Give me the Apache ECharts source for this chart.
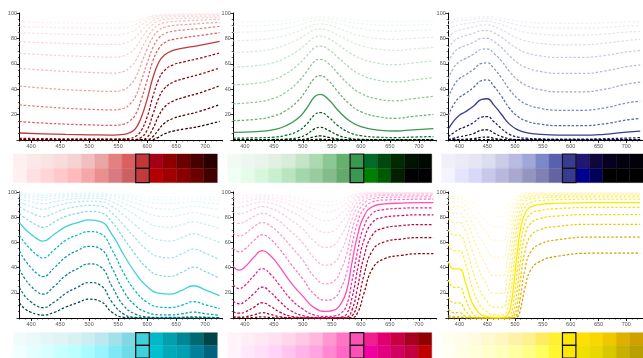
<!DOCTYPE html>
<html><head><meta charset="utf-8">
<script src="https://cdn.jsdelivr.net/npm/echarts@6/dist/echarts.min.js"></script>
<style>html,body{margin:0;padding:0;background:#fff}#c{width:643px;height:358px}</style>
</head><body><div id="c"></div>
<script>
// ---- tick labels ----
const xTickLabels = [400, 450, 500, 550, 600, 650, 700];
const xMinorTicks = [380,390,400,410,420,430,440,450,460,470,480,490,500,510,520,530,540,550,560,570,580,590,600,610,620,630,640,650,660,670,680,690,700,710,720,730];
const yTickLabels = [20, 40, 60, 80, 100];
const baseIndex = 9; // curves ordered lightest tint -> base -> darkest shade

// ---- RED ----
const redWl = [380, 420, 460, 500, 540, 560, 570, 580, 590, 600, 610, 620, 630, 645, 665, 690, 725];
const redCurves = [
  [92.7, 92.5, 92.2, 92.0, 91.9, 92.2, 92.9, 93.9, 95.6, 97.1, 98.2, 98.7, 99.0, 99.1, 99.2, 99.2, 99.3],
  [89.3, 88.9, 88.5, 88.3, 88.1, 88.5, 89.5, 91.0, 93.5, 95.7, 97.3, 98.1, 98.5, 98.6, 98.8, 98.9, 99.0],
  [84.4, 83.8, 83.3, 83.0, 82.7, 83.3, 84.7, 86.9, 90.5, 93.6, 95.9, 97.1, 97.7, 98.0, 98.1, 98.3, 98.5],
  [77.5, 76.7, 76.0, 75.6, 75.2, 76.0, 77.9, 80.9, 86.0, 90.5, 93.9, 95.8, 96.5, 97.0, 97.2, 97.4, 97.8],
  [68.3, 67.2, 66.3, 65.7, 65.2, 66.3, 68.7, 72.8, 79.8, 86.1, 91.0, 93.7, 94.9, 95.5, 95.9, 96.2, 96.7],
  [56.4, 55.1, 54.0, 53.2, 52.7, 54.0, 57.0, 62.2, 71.3, 79.9, 86.9, 90.7, 92.4, 93.3, 93.8, 94.4, 95.1],
  [42.4, 40.9, 39.6, 38.8, 38.2, 39.6, 43.0, 49.0, 60.2, 71.4, 80.9, 86.4, 88.8, 90.2, 90.9, 91.6, 92.8],
  [27.6, 26.2, 25.0, 24.2, 23.7, 25.0, 28.2, 34.3, 46.7, 60.3, 72.8, 80.3, 83.7, 85.6, 86.7, 87.7, 89.4],
  [14.5, 13.4, 12.5, 11.9, 11.5, 12.5, 15.0, 20.1, 31.9, 46.8, 62.2, 71.9, 76.6, 79.2, 80.7, 82.2, 84.5],
  [5.5, 4.9, 4.4, 4.1, 3.9, 4.4, 5.8, 9, 18, 32, 49, 61, 67, 70.5, 72.5, 74.5, 77.7],
  [1.3, 1.1, 0.9, 0.8, 0.8, 0.9, 1.4, 2.7, 7.6, 18.1, 34.3, 47.6, 54.8, 59.2, 61.7, 64.3, 68.5],
  [0.2, 0.1, 0.1, 0.1, 0.1, 0.1, 0.2, 0.4, 2.1, 7.7, 20.1, 32.9, 40.6, 45.5, 48.5, 51.6, 56.7],
  [0, 0, 0, 0, 0, 0, 0, 0, 0.3, 2.1, 9.0, 18.9, 25.9, 30.7, 33.8, 37.0, 42.7],
  [0, 0, 0, 0, 0, 0, 0, 0, 0, 0.3, 2.7, 8.2, 13.2, 17.0, 19.6, 22.5, 27.9],
  [0, 0, 0, 0, 0, 0, 0, 0, 0, 0, 0.4, 2.3, 4.8, 7.0, 8.7, 10.7, 14.7]
];
const redTop = ['#fff0f0','#fbe8e8','#fae3e3','#f8dcdc','#f5d3d3','#f0c0c0','#eaa5a5','#e38080','#d96060','#c23838','#a30018','#8c0000','#6b0000','#480000','#2a0000'];
const redBottom = ['#fff0f2','#ffe0e2','#ffd5d8','#ffc8cb','#ffbbbb','#f6a8a8','#e89090','#da7a80','#cc6060','#c23a3c','#b30000','#a00000','#880000','#6a0000','#400000'];

// ---- GREEN ----
const greenWl = [380, 420, 450, 470, 490, 505, 520, 530, 545, 560, 580, 600, 630, 660, 690, 725];
const greenCurves = [
  [93.0, 93.2, 93.7, 94.4, 95.4, 96.4, 97.2, 97.4, 97.0, 96.3, 95.2, 94.3, 93.6, 93.4, 93.6, 93.9],
  [89.6, 89.9, 90.7, 91.7, 93.2, 94.6, 95.9, 96.1, 95.6, 94.5, 92.9, 91.6, 90.5, 90.2, 90.6, 91.0],
  [84.8, 85.3, 86.4, 87.9, 90.0, 92.0, 93.9, 94.2, 93.5, 91.9, 89.6, 87.7, 86.1, 85.7, 86.3, 86.9],
  [78.1, 78.8, 80.3, 82.4, 85.4, 88.2, 91.0, 91.4, 90.4, 88.1, 84.8, 82.0, 79.9, 79.3, 80.1, 80.9],
  [69.0, 69.9, 71.9, 74.8, 78.9, 82.9, 86.8, 87.4, 85.9, 82.7, 78.0, 74.3, 71.5, 70.6, 71.7, 72.8],
  [57.4, 58.5, 61.0, 64.7, 70.0, 75.4, 80.8, 81.7, 79.6, 75.2, 68.9, 64.1, 60.4, 59.3, 60.7, 62.2],
  [43.5, 44.7, 47.7, 52.0, 58.6, 65.5, 72.6, 73.9, 71.0, 65.2, 57.2, 51.3, 47.0, 45.7, 47.3, 49.0],
  [28.6, 29.9, 32.9, 37.5, 44.9, 53.0, 61.9, 63.5, 59.8, 52.6, 43.3, 36.7, 32.2, 30.9, 32.6, 34.3],
  [15.3, 16.3, 18.9, 23.0, 30.1, 38.6, 48.7, 50.6, 46.3, 38.2, 28.5, 22.3, 18.3, 17.1, 18.6, 20.1],
  [6, 6.6, 8.2, 11, 16.5, 24, 34, 36, 31.5, 23.6, 15.2, 10.5, 7.8, 7.1, 8, 9],
  [1.5, 1.7, 2.3, 3.6, 6.7, 11.8, 19.8, 21.6, 17.7, 11.5, 5.9, 3.4, 2.2, 1.9, 2.3, 2.7],
  [0.2, 0.2, 0.4, 0.7, 1.7, 4.0, 8.8, 10.0, 7.4, 3.9, 1.4, 0.6, 0.3, 0.3, 0.3, 0.4],
  [0, 0, 0, 0.1, 0.2, 0.8, 2.6, 3.2, 2.0, 0.8, 0.2, 0, 0, 0, 0, 0],
  [0, 0, 0, 0, 0, 0.1, 0.4, 0.6, 0.3, 0.1, 0, 0, 0, 0, 0, 0],
  [0, 0, 0, 0, 0, 0, 0, 0, 0, 0, 0, 0, 0, 0, 0, 0]
];
const greenTop = ['#f2faf4','#eef7ef','#e9f4ea','#e1f0e3','#d7ecd9','#c6e5c8','#acd9af','#8cc893','#66b06e','#3a9950','#006b2a','#004810','#002a00','#001400','#000800'];
const greenBottom = ['#f0fff6','#e4fde9','#d8f8de','#c8f0cf','#b8e4c0','#a4d6ad','#98cc9e','#84bb8a','#64a86c','#3a9950','#008000','#005a00','#002000','#000000','#000000'];

// ---- BLUE ----
const blueWl = [380, 390, 400, 410, 425, 440, 450, 462, 475, 490, 505, 520, 545, 580, 620, 660, 700, 725];
const blueCurves = [
  [93.8, 95.2, 95.8, 96.1, 96.6, 97.1, 97.1, 96.7, 96.0, 94.7, 93.6, 92.9, 92.2, 91.9, 91.9, 92.3, 93.0, 93.3],
  [90.8, 92.9, 93.8, 94.3, 95.0, 95.7, 95.7, 95.1, 94.0, 92.2, 90.6, 89.5, 88.5, 88.0, 88.0, 88.6, 89.7, 90.2],
  [86.6, 89.5, 90.9, 91.5, 92.5, 93.6, 93.6, 92.7, 91.1, 88.6, 86.3, 84.7, 83.3, 82.6, 82.6, 83.4, 85.0, 85.6],
  [80.5, 84.7, 86.6, 87.6, 89.0, 90.5, 90.6, 89.3, 87.0, 83.3, 80.1, 77.9, 76.0, 75.0, 75.0, 76.2, 78.3, 79.2],
  [72.3, 77.9, 80.6, 81.9, 84.0, 86.1, 86.2, 84.4, 81.2, 76.0, 71.7, 68.7, 66.3, 65.0, 65.0, 66.5, 69.3, 70.5],
  [61.5, 68.8, 72.4, 74.2, 76.9, 79.9, 80.1, 77.5, 73.1, 66.3, 60.7, 57.0, 54.0, 52.4, 52.4, 54.2, 57.7, 59.1],
  [48.2, 57.0, 61.6, 63.9, 67.5, 71.4, 71.7, 68.2, 62.5, 54.0, 47.3, 43.0, 39.6, 37.9, 37.9, 39.9, 43.9, 45.5],
  [33.4, 43.0, 48.4, 51.0, 55.4, 60.3, 60.7, 56.3, 49.4, 39.7, 32.6, 28.2, 25.0, 23.4, 23.4, 25.2, 29.1, 30.7],
  [19.3, 28.2, 33.6, 36.4, 41.3, 46.8, 47.3, 42.3, 34.8, 25.0, 18.6, 15.0, 12.5, 11.3, 11.3, 12.7, 15.7, 17.0],
  [8.5, 15, 19.5, 22, 26.5, 32, 32.5, 27.5, 20.5, 12.5, 8, 5.8, 4.4, 3.8, 3.8, 4.5, 6.2, 7],
  [2.5, 5.8, 8.6, 10.3, 13.6, 18.1, 18.5, 14.4, 9.3, 4.4, 2.3, 1.4, 0.9, 0.7, 0.7, 1.0, 1.5, 1.9],
  [0.4, 1.4, 2.5, 3.3, 5.0, 7.7, 8.0, 5.5, 2.8, 0.9, 0.3, 0.2, 0.1, 0.1, 0.1, 0.1, 0.2, 0.3],
  [0, 0.2, 0.4, 0.6, 1.1, 2.1, 2.3, 1.3, 0.5, 0.1, 0, 0, 0, 0, 0, 0, 0, 0],
  [0, 0, 0, 0, 0.1, 0.3, 0.3, 0.1, 0, 0, 0, 0, 0, 0, 0, 0, 0, 0],
  [0, 0, 0, 0, 0, 0, 0, 0, 0, 0, 0, 0, 0, 0, 0, 0, 0, 0]
];
const blueTop = ['#f0f0f8','#ebebf6','#e6e6f3','#dcdef0','#cacce8','#b8bce2','#a0a8d8','#7c88c8','#5860b0','#383c90','#201870','#10083c','#080020','#040010','#020008'];
const blueBottom = ['#f4f4ff','#e4e4ff','#d8d8f8','#c8c8ec','#b8b8dc','#a8a8d0','#9494c0','#8080b4','#6464a0','#383c90','#000090','#00005a','#000000','#000000','#000000'];

// ---- CYAN ----
const cyanWl = [380, 390, 400, 410, 420, 440, 460, 480, 500, 520, 540, 560, 580, 600, 620, 640, 660, 680, 700, 725];
const cyanCurves = [
  [99.3, 99.1, 98.9, 98.8, 98.7, 98.9, 99.2, 99.3, 99.3, 99.3, 98.9, 98.2, 97.4, 96.5, 95.9, 95.8, 96.1, 96.5, 96.2, 95.6],
  [98.9, 98.6, 98.4, 98.2, 98.1, 98.4, 98.8, 98.9, 99.0, 99.0, 98.4, 97.3, 96.1, 94.7, 93.9, 93.7, 94.3, 94.8, 94.3, 93.5],
  [98.4, 98.0, 97.6, 97.3, 97.1, 97.6, 98.1, 98.4, 98.5, 98.4, 97.6, 96.0, 94.1, 92.2, 91.0, 90.7, 91.5, 92.3, 91.6, 90.4],
  [97.6, 97.0, 96.5, 96.0, 95.8, 96.5, 97.2, 97.6, 97.8, 97.7, 96.4, 94.1, 91.3, 88.5, 86.7, 86.4, 87.5, 88.7, 87.7, 85.9],
  [96.4, 95.5, 94.8, 94.1, 93.7, 94.8, 95.9, 96.4, 96.7, 96.5, 94.7, 91.3, 87.3, 83.3, 80.8, 80.4, 81.9, 83.6, 82.1, 79.6],
  [94.6, 93.3, 92.3, 91.3, 90.7, 92.3, 93.8, 94.7, 95.2, 94.8, 92.1, 87.2, 81.5, 76.0, 72.6, 72.0, 74.1, 76.4, 74.4, 71.0],
  [92.0, 90.2, 88.6, 87.2, 86.4, 88.6, 90.9, 92.1, 92.8, 92.4, 88.4, 81.4, 73.6, 66.3, 61.9, 61.1, 63.8, 66.8, 64.2, 59.9],
  [88.3, 85.6, 83.4, 81.4, 80.3, 83.4, 86.7, 88.4, 89.4, 88.8, 83.1, 73.5, 63.2, 54.0, 48.7, 47.8, 50.9, 54.6, 51.4, 46.3],
  [82.9, 79.2, 76.2, 73.5, 71.9, 76.2, 80.7, 83.1, 84.6, 83.6, 75.8, 63.0, 50.2, 39.7, 34.0, 33.1, 36.3, 40.3, 36.9, 31.5],
  [75.5, 70.5, 66.5, 63, 61, 66.5, 72.5, 75.7, 77.8, 76.5, 66, 50, 35.6, 25, 19.8, 19, 21.9, 25.6, 22.4, 17.7],
  [65.6, 59.2, 54.2, 50.0, 47.6, 54.2, 61.7, 65.9, 68.6, 66.9, 53.6, 35.4, 21.2, 12.5, 8.8, 8.3, 10.2, 13.0, 10.6, 7.4],
  [53.1, 45.5, 39.9, 35.4, 32.9, 39.9, 48.5, 53.5, 56.8, 54.7, 39.3, 21.0, 9.8, 4.4, 2.6, 2.4, 3.3, 4.7, 3.5, 2.0],
  [38.7, 30.7, 25.2, 21.0, 18.9, 25.2, 33.8, 39.1, 42.9, 40.5, 24.6, 9.6, 3.1, 0.9, 0.4, 0.4, 0.6, 1.0, 0.6, 0.3],
  [24.1, 17.0, 12.7, 9.6, 8.2, 12.7, 19.6, 24.4, 28.1, 25.8, 12.2, 3.0, 0.5, 0.1, 0, 0, 0, 0.1, 0.1, 0],
  [11.8, 7.0, 4.5, 3.0, 2.3, 4.5, 8.7, 12.1, 14.9, 13.1, 4.3, 0.5, 0, 0, 0, 0, 0, 0, 0, 0]
];
const cyanTop = ['#f0fcfc','#eafafb','#e4f6f8','#e0f4f6','#d8f2f4','#cceef2','#bce8ee','#a4e0ea','#80d8e4','#40d0dc','#00b8c8','#00a0ac','#008694','#006870','#004448'];
const cyanBottom = ['#f0ffff','#e4ffff','#d8ffff','#c8ffff','#bcffff','#a8fcff','#98f4ff','#80e8f4','#6cdce8','#40d0dc','#00c0d0','#00aab8','#00a0b0','#00809a','#006480'];

// ---- MAGENTA ----
const magentaWl = [380, 390, 400, 415, 430, 445, 460, 480, 500, 520, 540, 555, 565, 575, 585, 595, 605, 620, 640, 670, 700, 725];
const magentaCurves = [
  [97.7, 97.5, 97.7, 98.1, 98.4, 98.2, 97.7, 96.7, 95.5, 93.6, 92.6, 93.1, 94.4, 96.0, 97.9, 99.0, 99.4, 99.7, 99.7, 99.8, 99.8, 99.8],
  [96.6, 96.3, 96.5, 97.2, 97.6, 97.3, 96.5, 95.1, 93.4, 90.6, 89.2, 89.9, 91.7, 94.1, 96.9, 98.5, 99.2, 99.5, 99.6, 99.6, 99.7, 99.7],
  [94.9, 94.5, 94.8, 95.8, 96.4, 95.9, 94.8, 92.8, 90.2, 86.3, 84.2, 85.2, 87.9, 91.3, 95.4, 97.7, 98.7, 99.3, 99.4, 99.5, 99.5, 99.5],
  [92.5, 91.9, 92.4, 93.8, 94.7, 93.9, 92.4, 89.3, 85.7, 80.1, 77.3, 78.7, 82.4, 87.2, 93.2, 96.5, 98.1, 98.9, 99.1, 99.2, 99.2, 99.2],
  [88.9, 88.0, 88.8, 90.8, 92.1, 91.0, 88.8, 84.4, 79.3, 71.7, 67.9, 69.8, 74.8, 81.4, 90.0, 94.9, 97.2, 98.4, 98.7, 98.8, 98.8, 98.8],
  [83.9, 82.6, 83.7, 86.5, 88.4, 86.9, 83.7, 77.6, 70.6, 60.7, 56.0, 58.3, 64.7, 73.5, 85.4, 92.4, 95.8, 97.6, 98.0, 98.2, 98.3, 98.3],
  [76.8, 75.1, 76.5, 80.5, 83.1, 80.9, 76.5, 68.4, 59.4, 47.3, 41.9, 44.5, 52.0, 63.0, 78.9, 88.8, 93.8, 96.4, 97.1, 97.3, 97.4, 97.4],
  [67.3, 65.1, 66.9, 72.2, 75.7, 72.8, 66.9, 56.5, 45.7, 32.6, 27.1, 29.7, 37.5, 50.0, 70.1, 83.7, 90.8, 94.7, 95.7, 96.0, 96.1, 96.1],
  [55.2, 52.5, 54.7, 61.3, 65.9, 62.2, 54.7, 42.5, 30.9, 18.6, 14.1, 16.2, 23.0, 35.3, 58.7, 76.6, 86.5, 92.1, 93.6, 94.0, 94.3, 94.3],
  [41, 38, 40.5, 48, 53.5, 49, 40.5, 27.7, 17.2, 8, 5.3, 6.5, 11, 21, 45, 67, 80.5, 88.4, 90.5, 91.2, 91.5, 91.5],
  [26.3, 23.4, 25.8, 33.3, 39.1, 34.3, 25.8, 14.6, 7.1, 2.3, 1.2, 1.7, 3.6, 9.6, 30.2, 54.8, 72.2, 83.1, 86.1, 87.1, 87.5, 87.5],
  [13.4, 11.3, 13.1, 19.2, 24.5, 20.1, 13.1, 5.6, 1.9, 0.3, 0.1, 0.2, 0.7, 3.0, 16.6, 40.6, 61.4, 75.8, 79.9, 81.3, 81.9, 81.9],
  [4.9, 3.8, 4.7, 8.4, 12.1, 9.0, 4.7, 1.3, 0.3, 0, 0, 0, 0.1, 0.5, 6.8, 25.9, 48.1, 66.0, 71.4, 73.3, 74.1, 74.1],
  [1.1, 0.7, 1.0, 2.4, 4.2, 2.7, 1.0, 0.2, 0, 0, 0, 0, 0, 0, 1.8, 13.2, 33.4, 53.6, 60.3, 62.7, 63.8, 63.8],
  [0.1, 0.1, 0.1, 0.4, 0.9, 0.4, 0.1, 0, 0, 0, 0, 0, 0, 0, 0.2, 4.8, 19.3, 39.2, 46.9, 49.7, 51.0, 51.0]
];
const magentaTop = ['#fff4fa','#ffeef8','#ffe8f4','#ffe0f0','#ffd6ec','#ffc8e4','#ffb8dc','#ff98d0','#ff74c4','#ff50b8','#f02090','#e00070','#c80040','#a80020','#900000'];
const magentaBottom = ['#fff4fc','#ffe8fc','#ffe0f8','#ffd4f8','#ffc4f0','#ffb4e8','#ffa4e0','#ff88d0','#ff68c4','#ff50b8','#f000a0','#e00080','#d00060','#c00040','#c00000'];

// ---- YELLOW ----
const yellowWl = [380, 390, 400, 411, 423, 435, 446, 462, 478, 486, 492, 498, 504, 510, 518, 528, 545, 575, 640, 725];
const yellowCurves = [
  [97.9, 97.6, 97.6, 96.7, 94.6, 92.0, 89.7, 86.6, 86.6, 90.3, 93.9, 96.7, 98.3, 99.1, 99.5, 99.7, 99.7, 99.8, 99.8, 99.8],
  [96.9, 96.4, 96.4, 95.2, 92.1, 88.2, 84.9, 80.6, 80.6, 85.9, 91.0, 95.2, 97.5, 98.7, 99.3, 99.5, 99.6, 99.6, 99.7, 99.7],
  [95.4, 94.6, 94.6, 92.8, 88.3, 82.8, 78.2, 72.4, 72.4, 79.5, 86.9, 92.8, 96.2, 98.0, 98.9, 99.3, 99.4, 99.5, 99.5, 99.5],
  [93.2, 92.1, 92.1, 89.4, 83.0, 75.4, 69.2, 61.6, 61.6, 70.9, 80.9, 89.4, 94.4, 97.0, 98.4, 98.9, 99.1, 99.2, 99.2, 99.2],
  [90.0, 88.3, 88.3, 84.6, 75.6, 65.4, 57.5, 48.3, 48.3, 59.7, 72.8, 84.6, 91.7, 95.6, 97.6, 98.3, 98.6, 98.8, 98.9, 98.9],
  [85.4, 83.0, 83.0, 77.8, 65.8, 53.0, 43.6, 33.6, 33.6, 46.2, 62.2, 77.8, 87.9, 93.5, 96.4, 97.5, 97.9, 98.2, 98.3, 98.3],
  [78.9, 75.7, 75.7, 68.6, 53.4, 38.5, 28.8, 19.5, 19.5, 31.4, 49.0, 68.6, 82.4, 90.3, 94.6, 96.3, 96.9, 97.2, 97.4, 97.4],
  [70.1, 65.8, 65.8, 56.8, 39.0, 23.9, 15.5, 8.6, 8.6, 17.6, 34.3, 56.8, 74.8, 85.9, 92.1, 94.5, 95.4, 95.9, 96.2, 96.2],
  [58.7, 53.4, 53.4, 42.8, 24.3, 11.7, 6.1, 2.5, 2.5, 7.4, 20.1, 42.8, 64.7, 79.6, 88.3, 91.8, 93.2, 93.9, 94.3, 94.3],
  [45, 39, 39, 28, 12, 4, 1.5, 0.4, 0.4, 2, 9, 28, 52, 71, 83, 88, 90, 91, 91.6, 91.6],
  [30.2, 24.4, 24.4, 14.8, 4.2, 0.8, 0.2, 0, 0, 0.3, 2.7, 14.8, 37.5, 59.8, 75.6, 82.6, 85.4, 86.8, 87.7, 87.7],
  [16.6, 12.0, 12.0, 5.7, 0.8, 0.1, 0, 0, 0, 0, 0.4, 5.7, 23.0, 46.3, 65.8, 75.0, 78.9, 80.9, 82.1, 82.1],
  [6.8, 4.2, 4.2, 1.4, 0.1, 0, 0, 0, 0, 0, 0, 1.4, 11.0, 31.5, 53.3, 65.0, 70.1, 72.7, 74.4, 74.4],
  [1.8, 0.9, 0.9, 0.2, 0, 0, 0, 0, 0, 0, 0, 0.2, 3.7, 17.7, 38.9, 52.4, 58.6, 62.0, 64.2, 64.2],
  [0.2, 0.1, 0.1, 0, 0, 0, 0, 0, 0, 0, 0, 0, 0.7, 7.4, 24.3, 37.9, 44.9, 48.9, 51.4, 51.4]
];
const yellowTop = ['#fffff0','#fffce8','#fffae0','#fff8d0','#fff6c0','#fff2a8','#fff090','#ffec60','#fff030','#ffe800','#ffe000','#f8d800','#f0c800','#e0b000','#d0a000'];
const yellowBottom = ['#fffff4','#ffffe8','#ffffdc','#ffffcc','#ffffbc','#ffffa4','#ffff88','#ffff60','#fff830','#ffe800','#f0e000','#e8d800','#d8c800','#c8b000','#b8a000'];

// ---------------- build ----------------
const panels = [
  {wl: redWl, curves: redCurves, top: redTop, bottom: redBottom},
  {wl: greenWl, curves: greenCurves, top: greenTop, bottom: greenBottom},
  {wl: blueWl, curves: blueCurves, top: blueTop, bottom: blueBottom},
  {wl: cyanWl, curves: cyanCurves, top: cyanTop, bottom: cyanBottom},
  {wl: magentaWl, curves: magentaCurves, top: magentaTop, bottom: magentaBottom},
  {wl: yellowWl, curves: yellowCurves, top: yellowTop, bottom: yellowBottom}
];
const chartLeft = [19.5, 233.3, 448.3], chartTop = [13, 192], chartH = [127, 126], chartW = 203;
const stripLeft = [13.3, 227.7, 441.7], stripW = 204, stripTop = [154, 332.7], stripH = 28.6;
const labelStyle = {fontSize: 5.5, color: '#555', fontFamily: 'Liberation Sans, Arial, sans-serif'};

const grid = [], xAxis = [], yAxis = [], series = [];
panels.forEach((p, i) => {
  const r = Math.floor(i / 3), c = i % 3;
  const g = grid.length;
  grid.push({left: chartLeft[c], top: chartTop[r], width: chartW, height: chartH[r]});
  const xi = xAxis.length;
  xAxis.push({gridIndex: g, type: 'value', min: 380, max: 730, position: 'bottom',
    axisLine: {show: true, onZero: false, lineStyle: {color: '#000', width: 1}},
    axisTick: {show: true, customValues: xTickLabels, length: 3, lineStyle: {color: '#000', width: 0.8}},
    axisLabel: Object.assign({customValues: xTickLabels, margin: 3}, labelStyle),
    splitLine: {show: false}});
  xAxis.push({gridIndex: g, type: 'value', min: 380, max: 730, position: 'bottom',
    axisLine: {show: false}, axisTick: {show: true, customValues: xMinorTicks, length: 1.6, lineStyle: {color: '#000', width: 0.6}},
    axisLabel: {show: false}, splitLine: {show: false}});
  const yi = yAxis.length;
  yAxis.push({gridIndex: g, type: 'value', min: 0, max: 100, interval: 20,
    axisLine: {show: true, onZero: false, lineStyle: {color: '#000', width: 1}},
    axisTick: {show: true, length: 3, lineStyle: {color: '#000', width: 0.8}},
    minorTick: {show: true, splitNumber: 4, length: 1.6, lineStyle: {color: '#000', width: 0.6}},
    axisLabel: Object.assign({margin: 2.5, formatter: v => (yTickLabels.indexOf(v) >= 0 ? String(v) : '')}, labelStyle),
    splitLine: {show: false}, minorSplitLine: {show: false}});
  const order = [];
  for (let k = 0; k < 15; k++) if (k !== baseIndex) order.push(k);
  order.push(baseIndex);
  order.forEach(k => {
    const isBase = k === baseIndex;
    series.push({type: 'line', xAxisIndex: xi, yAxisIndex: yi, silent: true, animation: false,
      data: p.wl.map((w, j) => [w, p.curves[k][j]]),
      symbol: 'none', smooth: 0.5,
      lineStyle: {color: p.top[k], width: isBase ? 1.3 : 1.25, type: isBase ? 'solid' : [2.5, 1.8]},
      z: isBase ? 4 : 3});
  });
  // colour strip
  const sg = grid.length;
  grid.push({left: stripLeft[c], top: stripTop[r], width: stripW, height: stripH});
  const sxi = xAxis.length;
  xAxis.push({gridIndex: sg, type: 'category', data: p.top.map((_, k) => String(k)), show: false});
  const syi = yAxis.length;
  yAxis.push({gridIndex: sg, type: 'category', data: ['top', 'bottom'], inverse: true, show: false});
  const cells = [];
  for (let row = 0; row < 2; row++) for (let k = 0; k < 15; k++) if (k !== baseIndex) cells.push([k, row]);
  cells.push([baseIndex, 0]); cells.push([baseIndex, 1]);
  series.push({type: 'custom', xAxisIndex: sxi, yAxisIndex: syi, silent: true, animation: false,
    data: cells,
    renderItem: (params, api) => {
      const k = api.value(0), row = api.value(1);
      const pt = api.coord([k, row]);
      const sz = api.size([1, 1]);
      const col = (row === 0 ? p.top : p.bottom)[k];
      const isBase = k === baseIndex;
      return {type: 'rect',
        shape: {x: pt[0] - sz[0] / 2, y: pt[1] - sz[1] / 2, width: sz[0], height: sz[1]},
        style: {fill: col, stroke: isBase ? '#111' : col, lineWidth: isBase ? 1.2 : 0.4}};
    }});
});

const chart = echarts.init(document.getElementById('c'), null, {renderer: 'canvas'});
chart.setOption({animation: false, backgroundColor: '#fff', grid, xAxis, yAxis, series});
</script>
</body></html>
